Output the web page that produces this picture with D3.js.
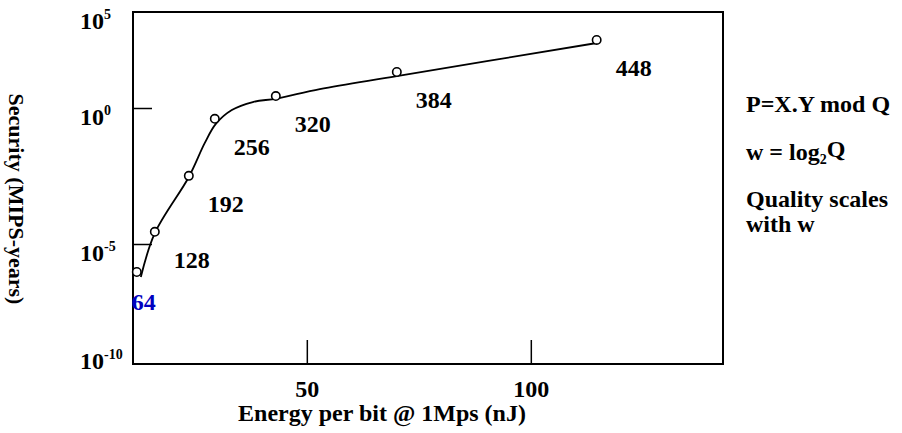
<!DOCTYPE html>
<html lang="en">

<head>
  <meta charset="UTF-8">
  <title>Security vs energy</title>
  <style>
    body { margin: 0; background: #fff; }
    text { font-family: "Liberation Serif", "Times New Roman", serif; font-weight: bold; }
  </style>
</head>

<body>
  <script src="https://d3js.org/d3.v7.min.js"></script>
  <script>
    // key widths (bits) shown next to each point
    const widths = [64, 128, 192, 256, 320, 384, 448];
    // measured points: energy (nJ) and security (MIPS-years)
    const energy = [12.05, 16.07, 23.66, 29.46, 43.08, 70.09, 114.7];
    const security = [6.8e-7, 2.8e-5, 3.2e-3, 0.40, 4.2, 75, 3500];
    // hand fitted trend line as drawn in the picture
    const fitEnergy = [12.95, 16.07, 23.66, 27.23, 29.69, 33.26, 37.95, 43.3, 52.9, 70.09, 114.73];
    const fitSecurity = [4.2e-7, 2.5e-5, 2.9e-3, 0.052, 0.26, 0.84, 2.05, 3.1, 9.7, 46, 2430];
    // axes
    const xTicks = [50, 100];
    const yTicks = [1e5, 1, 1e-5, 1e-10];
    const yTickExp = ["5", "0", "-5", "-10"];
    const notes = ["P=X.Y mod Q", "w = log", "Quality scales", "with w"];

    const width = 902, height = 433;
    const margin = { top: 12, left: 133, bottom: 69, right: 179 };

    const svg = d3.select('body').append('svg').attr('width', width).attr('height', height);

    // 比例尺
    const x = d3.scaleLinear().domain([11.2, 142.9]).range([margin.left, width - margin.right]);
    // the original axis is not evenly spaced per decade
    const y = d3.scaleLog().domain([1e-10, 1e-5, 1, 1e5]).range([height - margin.bottom, 244, 108, margin.top]);

    const x0 = margin.left, x1 = width - margin.right, y0 = height - margin.bottom, y1 = margin.top;

    // frame
    svg.append('rect')
      .attr('x', x0).attr('y', y1).attr('width', x1 - x0).attr('height', y0 - y1)
      .attr('fill', 'none').attr('stroke', '#000').attr('stroke-width', 2);

    // inward ticks
    const xAxis = d3.axisBottom(x).tickValues(xTicks).tickSize(-24).tickPadding(16);
    const gx = svg.append('g').attr('transform', `translate(0,${y0})`).call(xAxis);
    gx.select('.domain').remove();
    gx.selectAll('line').attr('stroke', '#000').attr('stroke-width', 1.5);
    gx.selectAll('text').attr('font-size', 24).attr('fill', '#000')
      .attr('font-family', '"Liberation Serif", serif').attr('font-weight', 'bold');

    const yAxis = d3.axisLeft(y).tickValues(yTicks.slice(1, 3)).tickSize(-19).tickFormat('');
    const gy = svg.append('g').attr('transform', `translate(${x0},0)`).call(yAxis);
    gy.select('.domain').remove();
    gy.selectAll('line').attr('stroke', '#000').attr('stroke-width', 1.5);

    // y labels as powers of ten
    const ylab = svg.append('g').selectAll('text').data(yTicks).enter().append('text')
      .attr('x', 80)
      .attr('y', d => Math.min(y(d) + 9, y0 - 3))
      .attr('dy', '0.35em')
      .attr('font-size', 24);
    ylab.append('tspan').text('10');
    ylab.append('tspan').attr('font-size', 14).attr('dy', '-0.75em').text((d, i) => yTickExp[i]);

    // trend
    const line = d3.line().x(d => x(d[0])).y(d => y(d[1])).curve(d3.curveCatmullRom.alpha(0.5));
    svg.append('path')
      .datum(d3.zip(fitEnergy, fitSecurity))
      .attr('d', line)
      .attr('fill', 'none').attr('stroke', '#000').attr('stroke-width', 1.8);

    // points
    const pts = d3.zip(energy, security);
    svg.append('g').selectAll('circle').data(pts).enter().append('circle')
      .attr('cx', d => x(d[0])).attr('cy', d => y(d[1])).attr('r', 4.2)
      .attr('fill', '#fff').attr('stroke', '#000').attr('stroke-width', 1.6);

    svg.append('g').selectAll('text').data(pts).enter().append('text')
      .attr('x', (d, i) => x(d[0]) + (i ? 37 : 7))
      .attr('y', (d, i) => y(d[1]) + (i ? 28 : 30))
      .attr('dy', '0.35em')
      .attr('text-anchor', 'middle')
      .attr('font-size', 24)
      .attr('fill', (d, i) => i ? '#000' : '#0000c0')
      .text((d, i) => widths[i]);

    // axis titles
    svg.append('text')
      .attr('x', 382).attr('y', 421)
      .attr('text-anchor', 'middle').attr('font-size', 24)
      .text('Energy per bit @ 1Mps (nJ)');

    svg.append('text')
      .attr('transform', 'translate(17,199) rotate(90)')
      .attr('text-anchor', 'middle').attr('dy', '0.35em').attr('font-size', 22)
      .text('Security (MIPS-years)');

    // notes on the right
    const nx = 746;
    svg.append('text').attr('x', nx).attr('y', 112).attr('font-size', 24).text(notes[0]);
    const w = svg.append('text').attr('x', nx).attr('y', 160).attr('font-size', 24);
    w.append('tspan').text(notes[1]);
    w.append('tspan').attr('font-size', 14).attr('dy', '0.3em').text('2');
    w.append('tspan').attr('dy', '-0.3em').text('Q');
    svg.append('text').attr('x', nx).attr('y', 207).attr('font-size', 24).text(notes[2]);
    svg.append('text').attr('x', nx).attr('y', 232).attr('font-size', 24).text(notes[3]);
  </script>
</body>

</html>
